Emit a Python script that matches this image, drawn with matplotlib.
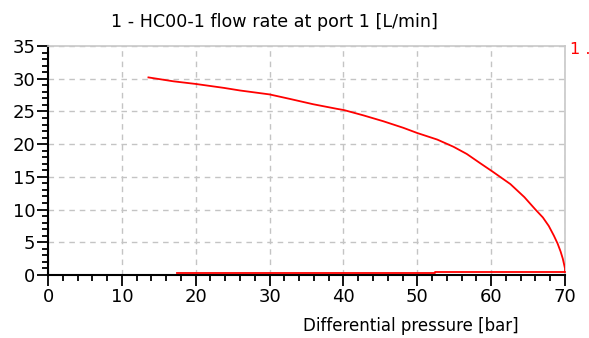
import matplotlib
matplotlib.use("Agg")
import matplotlib.pyplot as plt
from matplotlib.ticker import MultipleLocator

# Data
pressure_curve = [13.6, 17.0, 20.0, 23.8, 26.0, 30.0, 32.8, 35.9, 39.1, 40.1, 42.7,
                  45.4, 48.1, 50.0, 52.7, 54.9, 56.7, 58.5, 60.2, 62.6, 64.5, 66.0,
                  67.0, 67.8, 68.5, 69.0, 69.4, 69.7, 69.9, 70.0, 70.0]
flow_curve = [30.2, 29.6, 29.2, 28.6, 28.2, 27.6, 26.9, 26.1, 25.4, 25.2, 24.4,
              23.5, 22.5, 21.7, 20.7, 19.6, 18.5, 17.1, 15.8, 13.9, 11.9, 10.0,
              8.8, 7.5, 6.0, 4.8, 3.6, 2.5, 1.5, 1.0, 0.5]
pressure_low = [70.0, 52.4, 52.4, 17.4]
flow_low = [0.5, 0.5, 0.26, 0.26]

title = "1 - HC00-1 flow rate at port 1 [L/min]"
xlabel = "Differential pressure [bar]"
legend_label = "1 ."

plt.rcParams["font.family"] = ["DejaVu Sans"]

fig = plt.figure(figsize=(5.89, 3.38), dpi=100)
ax = fig.add_axes([48 / 589, 63 / 338, 517 / 589, 229 / 338])

ax.plot(pressure_curve, flow_curve, color="#ff0000", lw=1.3, zorder=3)
ax.plot(pressure_low, flow_low, color="#ff0000", lw=1.3, zorder=3, clip_on=False)

ax.set_xlim(0, 70)
ax.set_ylim(0, 35)
ax.xaxis.set_major_locator(MultipleLocator(10))
ax.xaxis.set_minor_locator(MultipleLocator(2))
ax.yaxis.set_major_locator(MultipleLocator(5))
ax.yaxis.set_minor_locator(MultipleLocator(1))

ax.grid(True, which="major", color="#c4c4c4", linestyle=(0, (4, 3.5)), lw=1.0)
ax.set_axisbelow(True)

for s in ("top", "right"):
    ax.spines[s].set_color("#c8c8c8")
    ax.spines[s].set_linewidth(1.2)
for s in ("left", "bottom"):
    ax.spines[s].set_color("black")
    ax.spines[s].set_linewidth(1.5)

ax.tick_params(which="major", direction="out", length=8, width=1.3, color="black",
               labelsize=13, pad=1)
ax.tick_params(which="minor", direction="out", length=4.5, width=1.3, color="black")
ax.tick_params(top=False, right=False, which="both")

fig.text(274 / 589, 1 - 27 / 338, title, ha="center", va="baseline", fontsize=12.6)
fig.text(303 / 589, 1 - 331 / 338, xlabel, ha="left", va="baseline", fontsize=12)
fig.text(570 / 589, 1 - 49 / 338, legend_label, ha="left", va="center",
         fontsize=11.5, color="#ff0000")

fig.savefig("out.png", dpi=100)
